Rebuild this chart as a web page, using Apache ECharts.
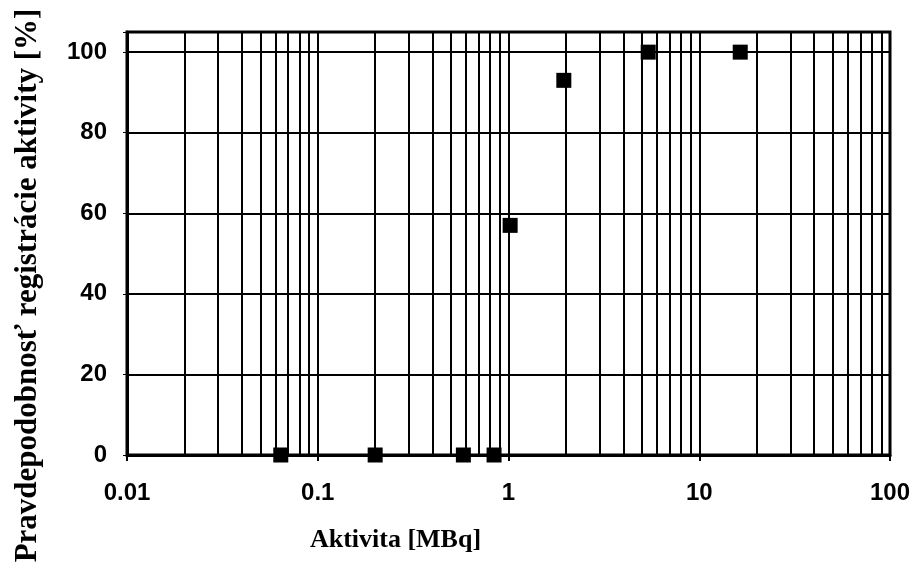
<!DOCTYPE html>
<html>
<head>
<meta charset="utf-8">
<script src="https://cdn.jsdelivr.net/npm/echarts@6/dist/echarts.min.js"></script>
<style>
  html, body { margin: 0; padding: 0; background: #fff; }
  #chart { width: 914px; height: 567px; }
</style>
</head>
<body>
<div id="chart"></div>
<script>
// activity [MBq] vs probability of registration [%]
const activity = [0.064, 0.2, 0.58, 0.84, 1.02, 1.95, 5.4, 16.4];
const probability = [0, 0, 0, 0, 57, 93, 100, 100];
// minor vertical grid lines of the log paper
const minorGrid = [
    0.02, 0.03, 0.04, 0.05, 0.06, 0.07, 0.08, 0.09,
    0.2, 0.3, 0.4, 0.5, 0.6, 0.7, 0.8, 0.9,
    2, 3, 4, 5, 6, 7, 8, 9,
    20, 30, 40, 50, 60, 70, 80, 90
];

const labelFont = "'Liberation Sans', Arial, sans-serif";
const titleFont = "'Liberation Serif', 'Times New Roman', serif";

let chart = echarts.init(document.getElementById('chart'));
let option = {
    animation: false,
    grid: {
        left: 127,
        right: 24,
        top: 32,
        bottom: 112,
        outerBoundsMode: 'none',
        containLabel: false,
        show: true,
        borderColor: '#000',
        borderWidth: 3
    },
    xAxis: {
        type: 'log',
        logBase: 10,
        min: 0.01,
        max: 100,
        name: 'Aktivita [MBq]',
        nameLocation: 'middle',
        nameGap: 72,
        nameTextStyle: {
            fontFamily: titleFont,
            fontWeight: 'bold',
            fontSize: 26,
            color: '#000',
            padding: [0, 226, 0, 0]
        },
        axisLine: { lineStyle: { color: '#000', width: 3 } },
        axisTick: { show: true, inside: false, length: 6, lineStyle: { color: '#000', width: 2 } },
        axisLabel: {
            margin: 26,
            fontFamily: labelFont,
            fontWeight: 'bold',
            fontSize: 24,
            color: '#000'
        },
        splitLine: { show: true, lineStyle: { color: '#000', width: 2 } }
    },
    yAxis: {
        type: 'value',
        min: 0,
        max: 105,
        interval: 20,
        name: 'Pravdepodobnosť registrácie aktivity [%]',
        nameLocation: 'middle',
        nameGap: 84,
        nameTextStyle: {
            fontFamily: titleFont,
            fontWeight: 'bold',
            fontSize: 31,
            color: '#000',
            padding: [0, 84, 0, 0]
        },
        axisLine: { show: true, lineStyle: { color: '#000', width: 3 } },
        axisTick: { show: true, length: 4, lineStyle: { color: '#000', width: 1 } },
        axisLabel: {
            margin: 20,
            fontFamily: labelFont,
            fontWeight: 'bold',
            fontSize: 24,
            color: '#000',
            formatter: function (v) {
                return v % 20 === 0 ? String(v) : '';
            }
        },
        splitLine: { show: true, lineStyle: { color: '#000', width: 2 } }
    },
    series: [
        {
            type: 'line',
            data: [],
            z: 1,
            silent: true,
            markLine: {
                silent: true,
                symbol: 'none',
                label: { show: false },
                lineStyle: { color: '#000', width: 2, type: 'solid' },
                data: minorGrid.map(v => ({ xAxis: v }))
            }
        },
        {
            type: 'scatter',
            z: 5,
            symbol: 'rect',
            symbolSize: 15,
            itemStyle: { color: '#000', opacity: 1 },
            data: activity.map((a, i) => [a, probability[i]])
        }
    ]
};
chart.setOption(option);
</script>
</body>
</html>
